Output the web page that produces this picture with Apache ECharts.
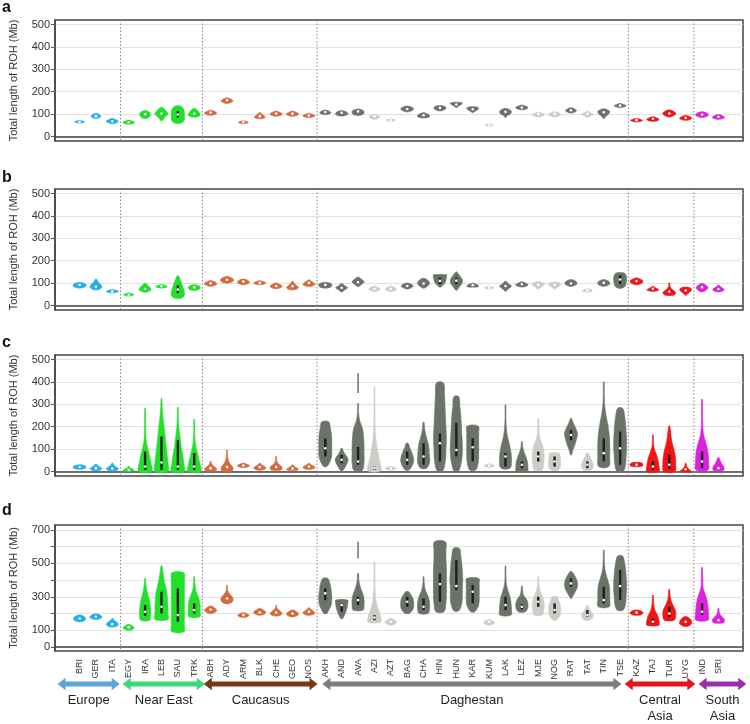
<!DOCTYPE html>
<html>
<head>
<meta charset="utf-8">
<script src="https://cdn.jsdelivr.net/npm/echarts@6/dist/echarts.min.js"></script>
<style>
  html, body { margin: 0; background: #fff; }
  #main { width: 750px; height: 724px; }
</style>
</head>
<body>
<div id="main"></div>
<script>
// populations in plotting order
const populations = ['BRI', 'GER', 'ITA', 'EGY', 'IRA', 'LEB', 'SAU', 'TRK', 'ABH', 'ADY', 'ARM', 'BLK', 'CHE', 'GEO', 'NOS',
  'AKH', 'AND', 'AVA', 'AZI', 'AZT', 'BAG', 'CHA', 'HIN', 'HUN', 'KAR', 'KUM', 'LAK', 'LEZ', 'MJE', 'NOG', 'RAT', 'TAT', 'TIN', 'TSE',
  'KAZ', 'TAJ', 'TUR', 'UYG', 'IND', 'SRI']
const regionNames = ['Europe', 'Near East', 'Caucasus', 'Daghestan', 'Central\nAsia', 'South\nAsia']
const regionSizes = [3, 5, 7, 19, 4, 2]
const regionFill = ['#22aee6', '#22e02a', '#d56b3d', '#6b7369', '#f01414', '#dc20dc']
const arrowColors = ['#5ba5d9', '#3bd97a', '#7a3512', '#7c7c7c', '#e3141c', '#9d2db0']
// arrow ends, in category steps from BRI
const arrowStart = [-1.22, 2.74, 7.68, 14.9, 33.3, 37.8]
const arrowEnd = [2.56, 7.74, 14.6, 33.1, 37.6, 40.7]
const lightPops = ['AZI', 'AZT', 'KUM', 'MJE', 'NOG', 'TAT']
const lightFill = '#c9cfc6'

// violin rows: [min, max, median, widths bottom->top, q1, q3]
const panelA = [
  [60, 72, 65, [2, 8, 10, 6, 1]], [80, 103, 91, [2, 8, 10, 7, 2]], [58, 80, 68, [3, 10, 12, 8, 2]],
  [55, 73, 64, [3, 10, 12, 8, 2]], [80, 115, 100, [2, 9, 11, 10, 3]], [70, 130, 103, [1, 6, 13, 9, 2]],
  [61, 135, 98, [8, 13, 13, 13, 12, 6], 85, 113], [88, 125, 103, [8, 12, 10, 7, 2]],
  [95, 117, 107, [3, 11, 12, 8, 2]], [147, 172, 162, [2, 9, 12, 9, 2]], [58, 70, 65, [2, 9, 10, 6, 1]],
  [80, 107, 91, [6, 11, 8, 4, 1]], [91, 113, 103, [3, 11, 12, 8, 2]], [91, 113, 102, [3, 11, 12, 8, 2]],
  [85, 103, 94, [3, 11, 12, 8, 2]],
  [98, 118, 109, [3, 10, 11, 8, 2]], [92, 115, 106, [4, 12, 12, 10, 3]], [95, 122, 112, [5, 11, 12, 11, 3]],
  [77, 100, 91, [2, 9, 11, 7, 1]], [67, 80, 73, [1, 7, 9, 5, 1]], [110, 135, 123, [3, 10, 13, 11, 4]],
  [83, 106, 95, [4, 12, 12, 8, 2]], [115, 138, 128, [3, 10, 12, 11, 4]], [129, 152, 143, [1, 4, 8, 12, 10]],
  [107, 132, 122, [1, 5, 10, 12, 8]], [46, 58, 52, [1, 7, 8, 4, 1]], [85, 125, 110, [1, 3, 10, 12, 10, 3]],
  [120, 140, 129, [4, 11, 12, 8, 2]], [88, 108, 100, [2, 10, 12, 8, 2]], [88, 110, 101, [3, 10, 12, 9, 2]],
  [105, 128, 117, [2, 9, 11, 8, 2]], [85, 113, 100, [1, 6, 12, 6, 1]], [80, 122, 108, [1, 4, 10, 12, 5]],
  [129, 147, 138, [3, 10, 12, 7, 2]],
  [65, 80, 73, [3, 10, 12, 8, 2]], [68, 88, 79, [4, 11, 12, 8, 2]], [88, 118, 103, [3, 11, 13, 10, 3]],
  [73, 94, 83, [4, 11, 12, 8, 2]], [85, 110, 98, [3, 11, 13, 10, 3]], [77, 98, 88, [3, 11, 12, 8, 2]]
]

const panelB = [
  [78, 103, 92, [3, 12, 13, 11, 3]], [71, 118, 83, [6, 12, 9, 4, 1]], [57, 71, 63, [3, 11, 12, 8, 2]],
  [42, 56, 48, [2, 9, 10, 6, 1]], [60, 100, 74, [4, 12, 10, 5, 1]], [78, 93, 86, [3, 10, 11, 8, 2]],
  [34, 133, 71, [8, 13, 13, 12, 10, 8, 6, 4, 1], 55, 90], [68, 93, 81, [4, 11, 12, 10, 2]],
  [86, 111, 99, [3, 11, 12, 9, 2]], [100, 130, 115, [3, 12, 13, 10, 2]], [93, 118, 107, [3, 11, 12, 9, 2]],
  [93, 111, 101, [3, 11, 12, 8, 2]], [76, 100, 87, [4, 11, 12, 7, 2]], [71, 108, 86, [6, 12, 8, 4, 1]],
  [86, 115, 101, [5, 12, 10, 5, 1]],
  [78, 103, 92, [4, 12, 13, 12, 4]], [60, 98, 79, [1, 6, 12, 6, 1]], [86, 127, 104, [2, 8, 12, 7, 1]],
  [63, 86, 74, [3, 10, 11, 7, 2]], [63, 86, 75, [3, 10, 11, 7, 2]], [74, 100, 87, [2, 9, 12, 9, 2]],
  [78, 120, 98, [2, 9, 12, 10, 4]], [83, 137, 110, [2, 7, 11, 12, 13, 13], 95, 125],
  [68, 150, 111, [1, 5, 9, 12, 12, 9, 5, 1], 95, 125], [83, 100, 91, [10, 12, 10, 6, 1]],
  [74, 86, 80, [2, 8, 9, 6, 1]], [64, 108, 87, [1, 6, 12, 6, 1]], [83, 105, 95, [3, 11, 12, 8, 2]],
  [75, 105, 93, [2, 6, 11, 12, 5]], [75, 104, 93, [2, 6, 11, 12, 5]], [86, 115, 98, [3, 11, 12, 10, 3]],
  [60, 75, 68, [2, 9, 10, 6, 1]], [86, 115, 101, [3, 11, 12, 10, 3]],
  [78, 145, 116, [5, 11, 12, 13, 13, 12, 8], 95, 135],
  [93, 123, 109, [3, 11, 13, 10, 2]], [64, 86, 75, [5, 12, 9, 4, 1]], [46, 100, 62, [8, 13, 8, 3, 1, 1]],
  [46, 81, 67, [1, 5, 10, 12, 6]], [61, 98, 82, [2, 9, 12, 9, 2]], [61, 90, 74, [3, 11, 10, 5, 1]]
]

const panelC = [
  [10, 30, 20, [3, 12, 13, 11, 3]], [5, 33, 15, [6, 12, 9, 4, 1]], [3, 37, 13, [6, 12, 8, 3, 1]],
  [0, 22, 7, [6, 11, 8, 3, 1]], [0, 282, 22, [13, 12, 9, 5, 2, 1.5, 1, 1, 0.5], 7, 89],
  [0, 326, 40, [13, 13, 11, 9, 7, 5, 3, 1.5, 0.5], 7, 156],
  [0, 286, 22, [13, 12, 10, 7, 5, 3, 1.5, 1, 0.5], 7, 141],
  [0, 233, 22, [13, 12, 9, 6, 3, 1.5, 1, 1, 0.5], 7, 82],
  [3, 45, 15, [10, 12, 6, 2, 1]], [0, 96, 20, [9, 12, 7, 3, 1.5, 1, 0.5]], [18, 37, 27, [4, 11, 12, 7, 2]],
  [7, 37, 20, [6, 12, 10, 4, 1]], [7, 67, 20, [10, 12, 6, 2, 1, 0.5]], [4, 30, 13, [6, 12, 8, 3, 1]],
  [10, 37, 22, [5, 12, 10, 4, 1]],
  [22, 222, 104, [3, 10, 13, 13, 13, 13, 12, 10, 7], 67, 148],
  [4, 104, 52, [2, 7, 11, 13, 9, 4, 1], 37, 74],
  [4, 304, 45, [8, 12, 12, 12, 11, 9, 3, 1, 0.5], 30, 110],
  [4, 378, 15, [13, 10, 6, 3, 1.5, 1, 1, 0.5, 0.5], 7, 22],
  [7, 22, 14, [3, 10, 11, 7, 2]],
  [7, 126, 52, [4, 10, 13, 12, 9, 5, 2], 30, 89],
  [15, 220, 67, [6, 12, 12, 11, 10, 7, 4, 2, 1], 30, 126],
  [0, 396, 126, [5, 11, 12, 13, 12, 11, 10, 9, 7], 45, 170],
  [0, 334, 96, [4, 10, 12, 12, 11, 10, 9, 7, 5], 67, 218],
  [7, 203, 108, [6, 11, 12, 12, 12, 12, 11], 45, 148],
  [19, 34, 27, [3, 9, 10, 6, 2]],
  [15, 297, 67, [9, 12, 11, 8, 4, 2, 1, 0.5, 0.5], 22, 82],
  [0, 134, 30, [11, 12, 11, 8, 4, 1.5, 0.5], 15, 45],
  [7, 237, 67, [8, 11, 12, 11, 8, 3, 1.5, 1, 0.5], 45, 89],
  [7, 82, 45, [8, 12, 12, 12, 11, 9], 22, 67],
  [74, 237, 163, [1, 4, 8, 11, 13, 10, 5, 1], 140, 185],
  [7, 82, 30, [7, 12, 11, 8, 5, 2], 15, 45],
  [22, 400, 82, [10, 12, 12, 11, 8, 4, 1.5, 1, 0.5], 45, 148],
  [0, 282, 104, [6, 11, 12, 13, 13, 12, 11, 9, 5], 30, 178],
  [22, 40, 30, [8, 13, 13, 12, 7]],
  [0, 163, 22, [12, 12, 10, 6, 2, 1, 0.5], 7, 45],
  [0, 203, 30, [11, 13, 12, 9, 5, 3, 1], 10, 75],
  [0, 37, 10, [12, 7, 3, 1.5, 0.5]],
  [7, 322, 45, [12, 13, 12, 8, 3, 1.5, 1, 1, 0.5], 15, 89],
  [4, 62, 15, [10, 11, 7, 4, 1]]
]

const panelD = [
  [150, 190, 170, [3, 11, 12, 10, 3]], [164, 196, 180, [3, 11, 12, 10, 3]], [120, 170, 136, [6, 12, 10, 4, 1]],
  [100, 134, 118, [3, 10, 11, 7, 2]],
  [160, 410, 210, [9, 11, 11, 10, 8, 5, 3, 1.5, 1], 185, 250],
  [164, 484, 240, [13, 13, 13, 12, 11, 8, 5, 3, 1], 200, 330],
  [90, 444, 190, [12, 13, 13, 13, 13, 13, 13, 13, 12], 150, 350],
  [180, 420, 220, [11, 12, 12, 11, 8, 4, 2, 1, 0.5], 200, 260],
  [200, 244, 224, [3, 11, 12, 8, 2]], [260, 370, 290, [6, 12, 11, 6, 2, 1, 0.5]], [176, 204, 190, [3, 10, 11, 8, 2]],
  [190, 230, 206, [4, 11, 12, 7, 2]], [186, 250, 206, [6, 12, 9, 4, 1, 0.5]], [180, 220, 200, [4, 11, 12, 8, 2]],
  [190, 234, 210, [5, 12, 10, 4, 1]],
  [200, 410, 320, [3, 8, 12, 13, 13, 12, 11, 9, 5], 280, 350],
  [170, 280, 250, [2, 6, 9, 11, 12, 12], 210, 260],
  [220, 440, 280, [10, 12, 12, 10, 6, 3, 1.5, 1], 250, 300],
  [150, 510, 175, [13, 11, 6, 3, 1.5, 1, 1, 0.5, 0.5], 160, 190],
  [130, 170, 150, [3, 10, 12, 7, 2]],
  [200, 330, 270, [4, 11, 13, 13, 12, 8, 3], 240, 300],
  [200, 420, 240, [9, 12, 12, 11, 8, 4, 2, 1, 0.5], 220, 290],
  [210, 630, 376, [8, 12, 13, 13, 13, 13, 12, 12, 11], 270, 440],
  [216, 590, 364, [5, 11, 12, 12, 13, 12, 11, 9, 6], 340, 520],
  [210, 410, 330, [4, 11, 13, 13, 13, 13, 12], 260, 370],
  [130, 164, 150, [2, 10, 11, 7, 1]],
  [190, 484, 250, [11, 12, 11, 9, 5, 2, 1, 0.5, 0.5], 220, 300],
  [210, 364, 240, [7, 12, 12, 9, 3, 1.5, 0.5], 225, 255],
  [190, 420, 270, [8, 11, 12, 11, 8, 4, 2, 1, 0.5], 240, 300],
  [160, 300, 220, [3, 10, 12, 12, 11, 8, 5], 200, 260],
  [290, 450, 380, [1, 6, 11, 13, 12, 8, 2], 360, 410],
  [160, 250, 190, [5, 11, 11, 7, 3, 1], 180, 220],
  [240, 580, 280, [11, 12, 12, 11, 7, 3, 1.5, 1, 0.5], 260, 360],
  [220, 544, 364, [6, 11, 12, 13, 13, 12, 11, 9, 5], 280, 460],
  [190, 220, 205, [8, 12, 13, 10, 4]],
  [130, 310, 150, [12, 12, 9, 4, 2, 1, 0.5], 140, 170],
  [160, 344, 200, [10, 13, 12, 7, 3, 1.5, 0.5], 180, 240],
  [124, 180, 150, [5, 12, 12, 9, 3]],
  [160, 476, 210, [12, 13, 12, 10, 6, 2, 1.5, 1, 0.5], 190, 260],
  [144, 230, 160, [10, 12, 8, 3, 1.5, 0.5]]
]

// detached thin segments above a violin: [population, from, to]
const spikesC = [['AVA', 350, 438]]
const spikesD = [['AVA', 530, 630]]

const ticksABC = [0, 100, 200, 300, 400, 500]
const ticksD = [0, 100, 200, 300, 400, 500, 600, 700]
const labelsD = [0, 100, 300, 500, 700]

const font = 'Liberation Sans, Arial, sans-serif'
const catData = [''].concat(populations, [''])

// region index of every population
const popRegion = []
regionSizes.forEach((n, r) => { for (let k = 0; k < n; k++) popRegion.push(r) })
function popColor (i) {
  if (lightPops.indexOf(populations[i]) >= 0) return lightFill
  return regionFill[popRegion[i]]
}
// first category of each region after the first (for the dotted separators)
const groupStarts = []
let acc = 0
regionSizes.slice(0, -1).forEach(n => { acc += n; groupStarts.push(acc + 1) })

function violinRender (rows) {
  return function (params, api) {
    const r = rows[params.dataIndex]
    const idx = api.value(0)
    const lo = r[0]
    const hi = r[1]
    const w = r[3]
    const scale = api.size([1, 0])[0] / 16.4
    const cx = api.coord([idx, lo])[0]
    const right = []
    const left = []
    for (let k = 0; k < w.length; k++) {
      const y = api.coord([idx, lo + (hi - lo) * k / (w.length - 1)])[1]
      const hw = Math.max(w[k] * scale / 2, 0.4)
      right.push([cx + hw, y])
      left.unshift([cx - hw, y])
    }
    const color = popColor(idx - 1)
    const children = [{
      type: 'polygon',
      shape: { points: right.concat(left), smooth: 0.35 },
      style: { fill: color, stroke: color, lineWidth: 0.6 }
    }]
    if (r.length > 4) {
      const top = api.coord([idx, r[5]])[1]
      const bot = api.coord([idx, r[4]])[1]
      children.push({ type: 'rect', shape: { x: cx - 1.2, y: top, width: 2.4, height: bot - top }, style: { fill: '#1e1e1e' } })
    }
    const my = api.coord([idx, r[2]])[1]
    children.push({ type: 'circle', shape: { cx: cx, cy: my, r: 1.3 }, style: { fill: '#ffffff' } })
    return { type: 'group', children: children }
  }
}

function spikeRender (spikes) {
  return function (params, api) {
    const s = spikes[params.dataIndex]
    const idx = populations.indexOf(s[0]) + 1
    const p0 = api.coord([idx, s[1]])
    const p1 = api.coord([idx, s[2]])
    return {
      type: 'line',
      shape: { x1: p0[0], y1: p0[1], x2: p1[0], y2: p1[1] },
      style: { stroke: popColor(idx - 1), lineWidth: 1.5 }
    }
  }
}

function separatorRender (params, api) {
  const idx = api.value(0)
  const x = api.coord([idx, 0])[0] - api.size([1, 0])[0] / 2
  const cs = params.coordSys
  return {
    type: 'line',
    shape: { x1: x, y1: cs.y, x2: x, y2: cs.y + cs.height },
    style: { stroke: '#8a8a8a', lineWidth: 1, lineDash: [1.5, 2] }
  }
}

function arrowRender (params, api) {
  const i = params.dataIndex
  const slot = api.size([1, 0])[0]
  const base = api.coord([1, 0.5])
  const x0 = base[0] + arrowStart[i] * slot
  const x1 = base[0] + arrowEnd[i] * slot
  const y = base[1]
  const t = 2.5
  const h = 6.2
  const L = 8
  const pts = [[x0, y], [x0 + L, y - h], [x0 + L, y - t], [x1 - L, y - t], [x1 - L, y - h], [x1, y],
    [x1 - L, y + h], [x1 - L, y + t], [x0 + L, y + t], [x0 + L, y + h]]
  return {
    type: 'group',
    children: [
      { type: 'polygon', shape: { points: pts }, style: { fill: arrowColors[i] } },
      {
        type: 'text',
        x: (x0 + x1) / 2,
        y: y + 8,
        style: { text: regionNames[i], fill: '#222', font: '13px ' + font, align: 'center', verticalAlign: 'top', lineHeight: 16 }
      }
    ]
  }
}

const panels = [panelA, panelB, panelC, panelD]
const spikes = [[], [], spikesC, spikesD]
const gridTops = [20, 189, 355, 525]
const gridHeights = [121, 121, 121, 126]
const yMin = [-20, -20, -20, -25]
const yMax = [520, 520, 520, 730]
const letters = ['a', 'b', 'c', 'd']
const letterTops = [0, 170, 335, 503]

const grid = []
const xAxis = []
const yAxis = []
const series = []
panels.forEach((rows, g) => {
  grid.push({
    left: 53, width: 690, top: gridTops[g], height: gridHeights[g],
    show: true, borderColor: '#444', borderWidth: 1.5
  })
  const last = g === 3
  xAxis.push({
    type: 'category', gridIndex: g, data: catData, boundaryGap: true,
    axisLine: { lineStyle: { color: '#444', width: 1.5 } },
    axisTick: { alignWithLabel: true, length: 3, interval: (idx) => idx > 0 && idx < catData.length - 1, lineStyle: { color: '#666' } },
    axisLabel: { show: last, interval: 0, rotate: 90, fontSize: 9, color: '#333', margin: 8, fontFamily: font },
    splitLine: { show: false }
  })
  const ticks = last ? ticksD : ticksABC
  yAxis.push({
    type: 'value', gridIndex: g, min: yMin[g], max: yMax[g],
    name: 'Total length of ROH (Mb)', nameLocation: 'middle', nameGap: 36,
    nameTextStyle: { fontSize: 11, color: '#333', fontFamily: font },
    axisLine: { show: true, lineStyle: { color: '#444', width: 1.5 } },
    axisTick: { show: true, length: 4, customValues: ticks, lineStyle: { color: '#555' } },
    axisLabel: { customValues: last ? labelsD : ticks, fontSize: 11, color: '#333', margin: 5, fontFamily: font },
    splitLine: { show: true, lineStyle: { color: '#e0e0e0', width: 1 } }
  })
  series.push({
    type: 'custom', xAxisIndex: g, yAxisIndex: g, silent: true, z: 1,
    renderItem: separatorRender,
    data: groupStarts.map(s => [s, 0]),
    encode: { x: 0, y: 1 }
  })
  series.push({
    type: 'custom', xAxisIndex: g, yAxisIndex: g, silent: true, z: 3,
    renderItem: spikeRender(spikes[g]),
    data: spikes[g].map(s => [populations.indexOf(s[0]) + 1, s[1], s[2]]),
    encode: { x: 0, y: [1, 2] }
  })
  series.push({
    type: 'custom', xAxisIndex: g, yAxisIndex: g, silent: true, z: 4,
    renderItem: violinRender(rows),
    data: rows.map((r, i) => [i + 1, r[0], r[1]]),
    encode: { x: 0, y: [1, 2] }
  })
})

// region arrows below the last panel
grid.push({ left: 53, width: 690, top: 676, height: 16 })
xAxis.push({ type: 'category', gridIndex: 4, data: catData, show: false })
yAxis.push({ type: 'value', gridIndex: 4, min: 0, max: 1, show: false })
series.push({
  type: 'custom', xAxisIndex: 4, yAxisIndex: 4, silent: true, clip: false,
  renderItem: arrowRender,
  data: regionNames.map(() => [1, 0.5]),
  encode: { x: 0, y: 1 }
})

const chart = echarts.init(document.getElementById('main'))
chart.setOption({
  backgroundColor: '#ffffff',
  animation: false,
  textStyle: { fontFamily: font },
  grid: grid,
  xAxis: xAxis,
  yAxis: yAxis,
  series: series,
  graphic: letters.map((l, i) => ({
    type: 'text', left: 2, top: letterTops[i],
    style: { text: l, font: 'bold 16px ' + font, fill: '#111' }
  }))
})
</script>
</body>
</html>
